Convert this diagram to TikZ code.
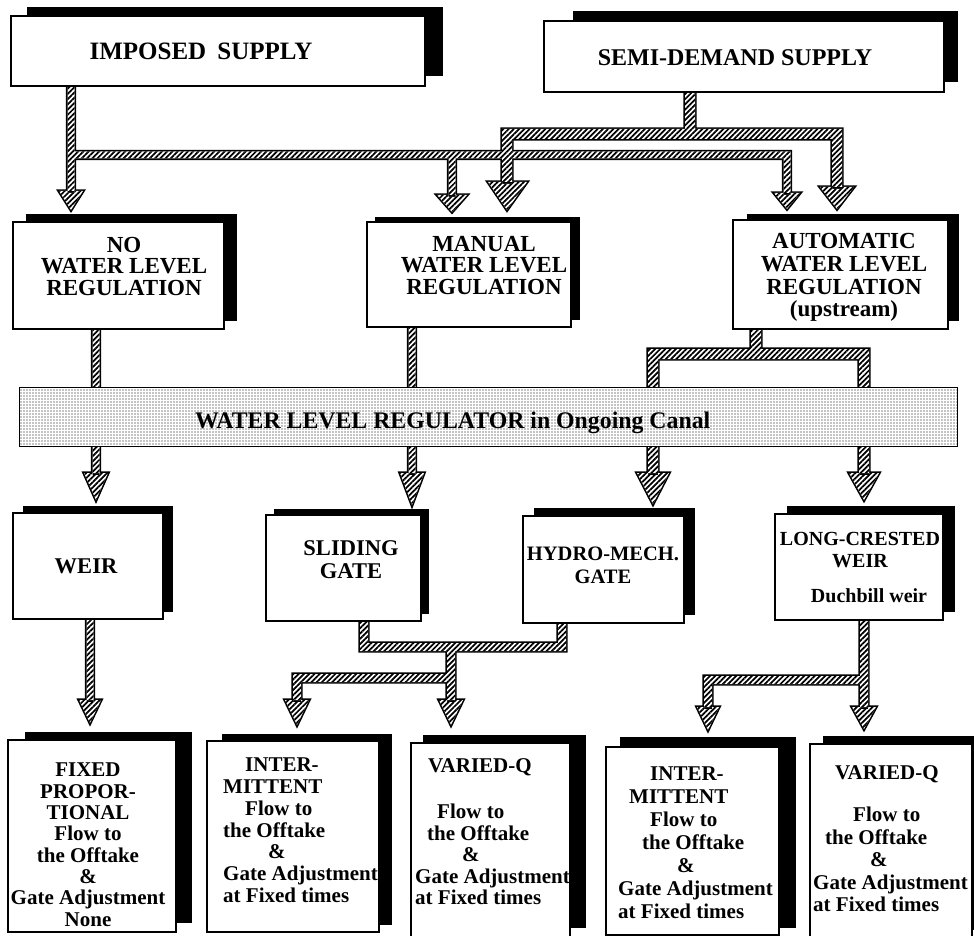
\documentclass[tikz,border=0pt]{standalone}
\usepackage{fontspec}
\setmainfont{Liberation Serif}
\usetikzlibrary{patterns.meta}
\tikzset{
  boxst/.style={draw, line width=1.3pt, fill=white, inner sep=0pt},
  shadowst/.style={fill=black},
  hatch/.style={pattern={Lines[angle=45,distance=3.7pt,line width=1.75pt]}},
  pipeline/.style={draw, line width=3.2pt, line join=miter, miter limit=10},
  txt/.style={font=\bfseries\fontsize{21}{21.5}\selectfont, inner sep=0pt, align=center},
  midtxt/.style={font=\bfseries\fontsize{23}{21.5}\selectfont},
  bannerst/.style={draw, line width=1pt, preaction={fill=white},
    pattern={Dots[distance=3pt,radius=0.65pt]}, inner sep=0pt},
}
% hatched pipe network: outlines first, then fills covering inner edges
\newcommand\hatchnet[1]{%
  \path[pipeline] #1;
  \fill[white] #1;
  \fill[hatch] #1;
}
% box with black shadow: name, x1,y1,x2,y2, sx1,sy1,sx2,sy2
\newcommand\shbox[9]{%
  \fill[shadowst] (#6,#7) rectangle (#8,#9);
  \node[boxst, minimum width={(#4)-(#2)}, minimum height={(#5)-(#3)}]
    (#1) at ({((#2)+(#4))/2},{((#3)+(#5))/2}) {};
}
\begin{document}
\begin{tikzpicture}[x=1pt,y=-1pt]
\useasboundingbox (0,0) rectangle (974,936);

% ---------- connectors (hatched pipes) ----------
% Imposed supply and semi-demand supply (merged where they cross)
\hatchnet{(67.5,80) rectangle (74.5,193)
  (71,151.5) rectangle (790.5,158.5)
  (448.5,151.5) rectangle (455.5,197)
  (783.5,151.5) rectangle (790.5,195)
  (59,191) -- (83,191) -- (71,210) -- cycle
  (437,195) -- (467,195) -- (452,212) -- cycle
  (774,193) -- (800,193) -- (787,209) -- cycle
  (685,86) rectangle (695,139)
  (502,129) rectangle (842,139)
  (502,129) rectangle (512,184)
  (832,129) rectangle (842,189)
  (488,182) -- (527,182) -- (507,210) -- cycle
  (820,187) -- (854,187) -- (837,209) -- cycle}
% No regulation -> weir
\hatchnet{(92.5,325) rectangle (99.5,475)
  (84,473) -- (108,473) -- (96,500) -- cycle}
% Manual -> sliding gate
\hatchnet{(408.5,322) rectangle (415.5,475)
  (400,473) -- (424,473) -- (412,505) -- cycle}
% Automatic -> hydro-mech / long-crested
\hatchnet{(751,325) rectangle (761,359)
  (648,349) rectangle (869,359)
  (648,349) rectangle (658,475)
  (859,349) rectangle (869,475)
  (637,473) -- (669,473) -- (653,504) -- cycle
  (849,473) -- (879,473) -- (864,500) -- cycle}
% Sliding gate + hydro-mech -> intermittent / varied-Q
\hatchnet{(360,615) rectangle (368,651)
  (558,617) rectangle (566,651)
  (360,643) rectangle (566,651)
  (447,643) rectangle (455,702)
  (293,674) rectangle (455,682)
  (293,674) rectangle (301,702)
  (285,700) -- (309,700) -- (297,725) -- cycle
  (439,700) -- (463,700) -- (451,725) -- cycle}
% Weir -> fixed proportional
\hatchnet{(86.5,615) rectangle (93.5,702)
  (79,700) -- (101,700) -- (90,723) -- cycle}
% Long-crested weir -> intermittent / varied-Q
\hatchnet{(860,615) rectangle (868,709)
  (704,676) rectangle (868,684)
  (704,676) rectangle (712,709)
  (697,707) -- (719,707) -- (708,730) -- cycle
  (852,707) -- (876,707) -- (864,729) -- cycle}

% ---------- boxes ----------
\shbox{imp}{11}{16}{425}{86}{27}{7}{443}{76}
\shbox{semi}{544}{21}{944}{92}{573}{11}{958}{82}
\shbox{noreg}{13}{222}{224}{329}{26}{214}{237}{321}
\shbox{manual}{367}{222}{571}{327}{375}{217}{580}{320}
\shbox{auto}{733}{220}{948}{329}{747}{214}{959}{321}
\shbox{weir}{13}{513}{163}{619}{23}{506}{173}{612}
\shbox{slide}{266}{515}{421}{621}{274}{509}{429}{614}
\shbox{hydro}{523}{516}{684}{623}{534}{508}{695}{615}
\shbox{long}{775}{514}{943}{620}{787}{506}{955}{612}
\shbox{fixed}{8}{740}{176}{932}{25}{732}{192}{923}
\shbox{inter1}{207}{741}{379}{932}{222}{734}{392}{925}
\shbox{var1}{411}{743}{570}{938}{423}{735}{586}{928}
\shbox{inter2}{606}{747}{779}{935}{620}{737}{796}{928}
\shbox{var2}{810}{744}{972}{938}{823}{736}{976}{930}

% ---------- banner ----------
\node[bannerst, minimum width=938pt, minimum height=59pt] (banner) at (488,416.5) {};
\node[txt, font=\bfseries\fontsize{23.8}{24}\selectfont, anchor=base west] (bannerT) at (195,428)
  {WATER LEVEL REGULATOR in Ongoing Canal};

% ---------- texts ----------
\node[txt, font=\bfseries\fontsize{25}{25}\selectfont] (impT) at (201,51) {IMPOSED\hspace{0.45em}SUPPLY};
\node[txt, font=\bfseries\fontsize{24}{24}\selectfont] (semiT) at (735,58) {SEMI-DEMAND SUPPLY};
\node[txt, midtxt, anchor=north] (noregT) at (124,237) {NO\\WATER LEVEL\\REGULATION};
\node[txt, midtxt, anchor=north] (manualT) at (484,236) {MANUAL\\WATER LEVEL\\REGULATION};
\node[txt, anchor=north, font=\bfseries\fontsize{23}{22.8}\selectfont] (autoT) at (844,233)
  {AUTOMATIC\\WATER LEVEL\\REGULATION\\(upstream)};
\node[txt, font=\bfseries\fontsize{22.5}{22.5}\selectfont] (weirT) at (86,566) {WEIR};
\node[txt, anchor=north, font=\bfseries\fontsize{22.5}{23}\selectfont] (slideT) at (351,540) {SLIDING\\GATE};
\node[txt, anchor=north, font=\bfseries\fontsize{20.5}{22.5}\selectfont] (hydroT) at (603,547) {HYDRO-MECH.\\GATE};
\node[txt, anchor=north, font=\bfseries\fontsize{20}{22.5}\selectfont] (longT) at (860,532)
  {LONG-CRESTED\\WEIR\\[12pt]\hspace*{18pt}Duchbill weir};
\node[txt, anchor=north, font=\bfseries\fontsize{21}{21.3}\selectfont] (fixedT) at (88,763)
  {FIXED\\PROPOR-\\TIONAL\\Flow to\\the Offtake\\\&\\Gate Adjustment\\None};
\node[txt, align=left, anchor=north west, font=\bfseries\fontsize{21}{21.7}\selectfont] (inter1T) at (223,758)
  {\hspace*{22pt}INTER-\\MITTENT\\\hspace*{22pt}Flow to\\the Offtake\\\hspace*{45pt}\&\\Gate Adjustment\\at Fixed times};
\node[txt, align=left, anchor=north west, font=\bfseries\fontsize{21}{21.5}\selectfont] (var1T) at (415,758)
  {\hspace*{13pt}VARIED-Q\\[25pt]\hspace*{22pt}Flow to\\\hspace*{12pt}the Offtake\\\hspace*{47pt}\&\\Gate Adjustment\\at Fixed times};
\node[txt, align=left, anchor=north west, font=\bfseries\fontsize{21}{23}\selectfont] (inter2T) at (618,767)
  {\hspace*{32pt}INTER-\\\hspace*{11pt}MITTENT\\\hspace*{32pt}Flow to\\\hspace*{24pt}the Offtake\\\hspace*{59pt}\&\\Gate Adjustment\\at Fixed times};
\node[txt, align=left, anchor=north west, font=\bfseries\fontsize{21}{22.5}\selectfont] (var2T) at (813,765)
  {\hspace*{22pt}VARIED-Q\\[20pt]\hspace*{40pt}Flow to\\\hspace*{12pt}the Offtake\\\hspace*{57pt}\&\\Gate Adjustment\\at Fixed times};
\end{tikzpicture}
\end{document}
